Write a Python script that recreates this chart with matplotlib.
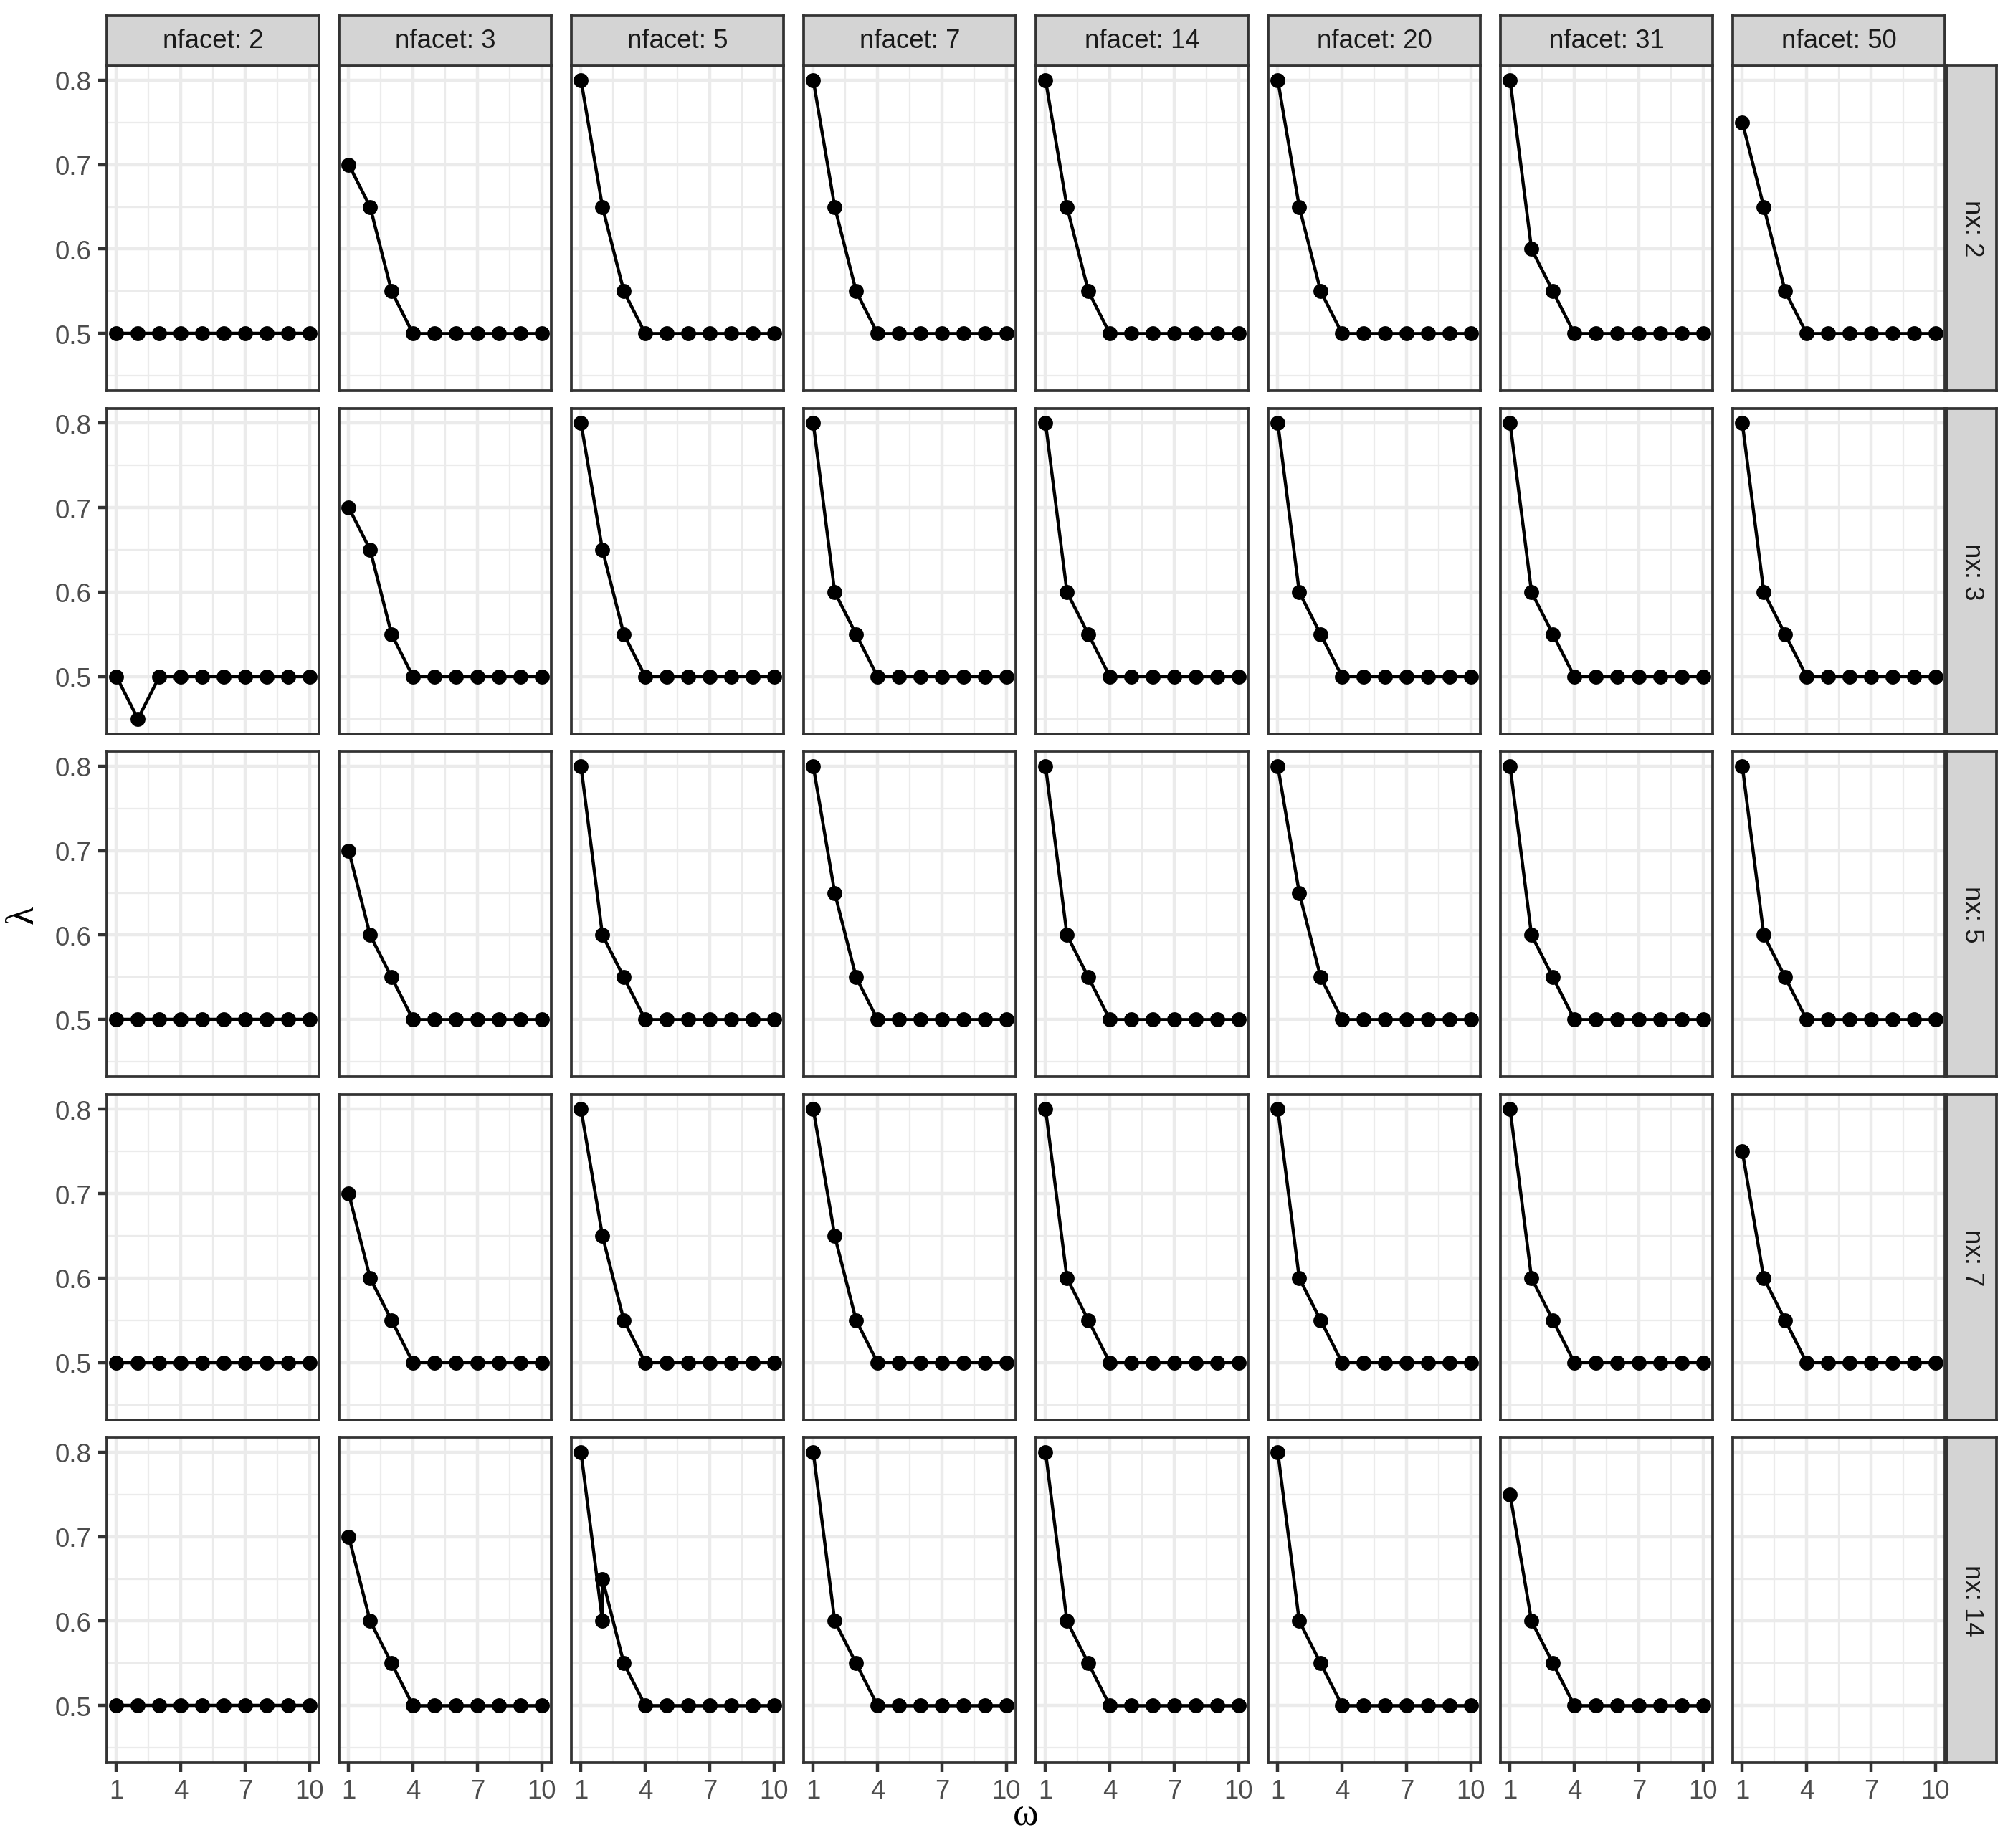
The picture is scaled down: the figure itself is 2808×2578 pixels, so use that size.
import matplotlib
matplotlib.use('Agg')
import matplotlib.pyplot as plt
from matplotlib.ticker import FixedLocator

# data
omega = [1, 2, 3, 4, 5, 6, 7, 8, 9, 10]
omega_dup = [1, 2, 2, 3, 4, 5, 6, 7, 8, 9, 10]   # one panel has two values at omega = 2
nfacet = [2, 3, 5, 7, 14, 20, 31, 50]
nx = [2, 3, 5, 7, 14]

lam_nx2 = [
    [0.5, 0.5, 0.5, 0.5, 0.5, 0.5, 0.5, 0.5, 0.5, 0.5],
    [0.7, 0.65, 0.55, 0.5, 0.5, 0.5, 0.5, 0.5, 0.5, 0.5],
    [0.8, 0.65, 0.55, 0.5, 0.5, 0.5, 0.5, 0.5, 0.5, 0.5],
    [0.8, 0.65, 0.55, 0.5, 0.5, 0.5, 0.5, 0.5, 0.5, 0.5],
    [0.8, 0.65, 0.55, 0.5, 0.5, 0.5, 0.5, 0.5, 0.5, 0.5],
    [0.8, 0.65, 0.55, 0.5, 0.5, 0.5, 0.5, 0.5, 0.5, 0.5],
    [0.8, 0.6, 0.55, 0.5, 0.5, 0.5, 0.5, 0.5, 0.5, 0.5],
    [0.75, 0.65, 0.55, 0.5, 0.5, 0.5, 0.5, 0.5, 0.5, 0.5],
]
lam_nx3 = [
    [0.5, 0.45, 0.5, 0.5, 0.5, 0.5, 0.5, 0.5, 0.5, 0.5],
    [0.7, 0.65, 0.55, 0.5, 0.5, 0.5, 0.5, 0.5, 0.5, 0.5],
    [0.8, 0.65, 0.55, 0.5, 0.5, 0.5, 0.5, 0.5, 0.5, 0.5],
    [0.8, 0.6, 0.55, 0.5, 0.5, 0.5, 0.5, 0.5, 0.5, 0.5],
    [0.8, 0.6, 0.55, 0.5, 0.5, 0.5, 0.5, 0.5, 0.5, 0.5],
    [0.8, 0.6, 0.55, 0.5, 0.5, 0.5, 0.5, 0.5, 0.5, 0.5],
    [0.8, 0.6, 0.55, 0.5, 0.5, 0.5, 0.5, 0.5, 0.5, 0.5],
    [0.8, 0.6, 0.55, 0.5, 0.5, 0.5, 0.5, 0.5, 0.5, 0.5],
]
lam_nx5 = [
    [0.5, 0.5, 0.5, 0.5, 0.5, 0.5, 0.5, 0.5, 0.5, 0.5],
    [0.7, 0.6, 0.55, 0.5, 0.5, 0.5, 0.5, 0.5, 0.5, 0.5],
    [0.8, 0.6, 0.55, 0.5, 0.5, 0.5, 0.5, 0.5, 0.5, 0.5],
    [0.8, 0.65, 0.55, 0.5, 0.5, 0.5, 0.5, 0.5, 0.5, 0.5],
    [0.8, 0.6, 0.55, 0.5, 0.5, 0.5, 0.5, 0.5, 0.5, 0.5],
    [0.8, 0.65, 0.55, 0.5, 0.5, 0.5, 0.5, 0.5, 0.5, 0.5],
    [0.8, 0.6, 0.55, 0.5, 0.5, 0.5, 0.5, 0.5, 0.5, 0.5],
    [0.8, 0.6, 0.55, 0.5, 0.5, 0.5, 0.5, 0.5, 0.5, 0.5],
]
lam_nx7 = [
    [0.5, 0.5, 0.5, 0.5, 0.5, 0.5, 0.5, 0.5, 0.5, 0.5],
    [0.7, 0.6, 0.55, 0.5, 0.5, 0.5, 0.5, 0.5, 0.5, 0.5],
    [0.8, 0.65, 0.55, 0.5, 0.5, 0.5, 0.5, 0.5, 0.5, 0.5],
    [0.8, 0.65, 0.55, 0.5, 0.5, 0.5, 0.5, 0.5, 0.5, 0.5],
    [0.8, 0.6, 0.55, 0.5, 0.5, 0.5, 0.5, 0.5, 0.5, 0.5],
    [0.8, 0.6, 0.55, 0.5, 0.5, 0.5, 0.5, 0.5, 0.5, 0.5],
    [0.8, 0.6, 0.55, 0.5, 0.5, 0.5, 0.5, 0.5, 0.5, 0.5],
    [0.75, 0.6, 0.55, 0.5, 0.5, 0.5, 0.5, 0.5, 0.5, 0.5],
]
lam_nx14 = [
    [0.5, 0.5, 0.5, 0.5, 0.5, 0.5, 0.5, 0.5, 0.5, 0.5],
    [0.7, 0.6, 0.55, 0.5, 0.5, 0.5, 0.5, 0.5, 0.5, 0.5],
    [0.8, 0.6, 0.65, 0.55, 0.5, 0.5, 0.5, 0.5, 0.5, 0.5, 0.5],
    [0.8, 0.6, 0.55, 0.5, 0.5, 0.5, 0.5, 0.5, 0.5, 0.5],
    [0.8, 0.6, 0.55, 0.5, 0.5, 0.5, 0.5, 0.5, 0.5, 0.5],
    [0.8, 0.6, 0.55, 0.5, 0.5, 0.5, 0.5, 0.5, 0.5, 0.5],
    [0.75, 0.6, 0.55, 0.5, 0.5, 0.5, 0.5, 0.5, 0.5, 0.5],
    [],
]
lam_rows = [lam_nx2, lam_nx3, lam_nx5, lam_nx7, lam_nx14]

x_breaks = [1, 4, 7, 10]
x_minor = [2.5, 5.5, 8.5]
y_breaks = [0.5, 0.6, 0.7, 0.8]
y_minor = [0.45, 0.55, 0.65, 0.75]

plt.rcParams['font.family'] = ['Liberation Sans', 'DejaVu Sans']

W, H = 2808, 2579
fig = plt.figure(figsize=(W / 300, H / 300), dpi=300)
fig.patch.set_facecolor('white')

# layout in pixels
left0, col_step, pw = 149, 324, 296
top0, row_step, ph = 92, 478.5, 454
strip = 69

def frac(l, t, w, h):
    return [l / W, 1 - (t + h) / H, w / W, h / H]

def make_strip(rect, label, rot):
    sa = fig.add_axes(rect)
    sa.set_facecolor('#D4D4D4')
    sa.set_xticks([])
    sa.set_yticks([])
    for s in sa.spines.values():
        s.set_color('#333333')
        s.set_linewidth(0.9)
    sa.text(0.5, 0.5, label, ha='center', va='center', rotation=rot,
            fontsize=8.8, color='#1A1A1A', transform=sa.transAxes)

for i, row in enumerate(lam_rows):
    top = top0 + i * row_step
    for j, lam in enumerate(row):
        left = left0 + j * col_step
        ax = fig.add_axes(frac(left, top, pw, ph))
        ax.set_xlim(0.55, 10.45)
        ax.set_ylim(0.4325, 0.8175)
        for v in x_minor:
            ax.axvline(v, color='#EBEBEB', lw=0.55, zorder=0)
        for v in y_minor:
            ax.axhline(v, color='#EBEBEB', lw=0.55, zorder=0)
        for v in x_breaks:
            ax.axvline(v, color='#EBEBEB', lw=1.07, zorder=0)
        for v in y_breaks:
            ax.axhline(v, color='#EBEBEB', lw=1.07, zorder=0)

        if len(lam) > 0:
            xs = omega_dup if len(lam) == 11 else omega
            ax.plot(xs, lam, '-', color='black', lw=1.07, zorder=2)
            ax.plot(xs, lam, 'o', color='black', ms=5.0, mew=0, zorder=3)

        ax.xaxis.set_major_locator(FixedLocator(x_breaks))
        ax.yaxis.set_major_locator(FixedLocator(y_breaks))
        ax.tick_params(length=3.0, width=1.07, color='#333333',
                       labelsize=8.8, labelcolor='#4D4D4D', pad=2.2)
        if i < len(lam_rows) - 1:
            ax.tick_params(axis='x', length=0, labelbottom=False)
        else:
            ax.set_xticklabels([str(v) for v in x_breaks])
        if j > 0:
            ax.tick_params(axis='y', length=0, labelleft=False)
        else:
            ax.set_yticklabels(['%.1f' % v for v in y_breaks])
        for s in ax.spines.values():
            s.set_color('#333333')
            s.set_linewidth(0.9)
            s.set_zorder(4)

        if i == 0:
            make_strip(frac(left, top - strip, pw, strip), 'nfacet: %d' % nfacet[j], 0)
    make_strip(frac(left0 + 7 * col_step + pw + 3, top, strip, ph), 'nx: %d' % nx[i], -90)

# axis titles
fig.text(1431 / W, 1 - 2533 / H, 'ω', ha='center', va='center',
         fontsize=13, family=['Liberation Serif', 'DejaVu Serif'])
fig.text(32 / W, 1 - 1276 / H, 'λ', ha='center', va='center', rotation=90,
         fontsize=13, family=['Liberation Serif', 'DejaVu Serif'])

plt.savefig('out.png', dpi=300, facecolor='white')
